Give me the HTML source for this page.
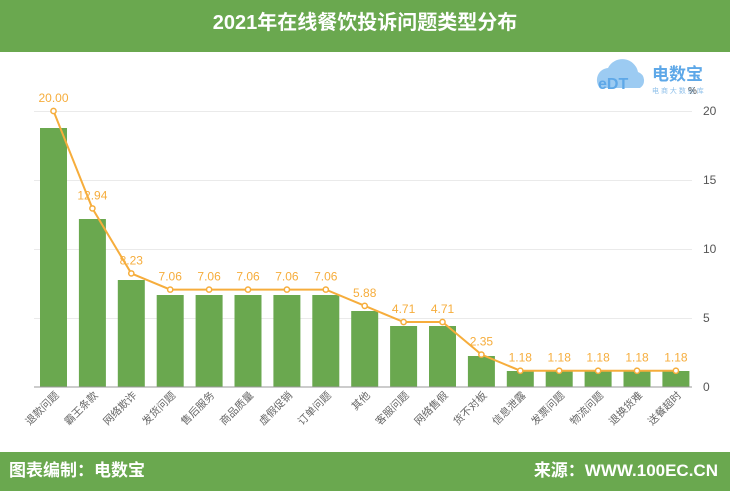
<!DOCTYPE html>
<html><head><meta charset="utf-8"><style>
body{margin:0;width:730px;height:491px;background:#fff;overflow:hidden;font-family:"Liberation Sans","Noto Sans CJK SC",sans-serif;}
.hd{position:absolute;left:0;top:0;width:730px;height:52px;background:#6aa84f;color:#fff;font-weight:bold;font-size:20px;text-align:center;line-height:46px;}
.ft{position:absolute;left:0;top:452px;width:730px;height:39px;background:#6aa84f;color:#fff;font-weight:bold;font-size:17px;line-height:38px;}
</style></head><body>
<div class="hd">2021年在线餐饮投诉问题类型分布</div>
<svg style="position:absolute;left:0;top:0" width="730" height="491">
<g stroke="#eaeaea" stroke-width="1">
<line x1="34" x2="692" y1="111.5" y2="111.5"/><line x1="34" x2="692" y1="180.5" y2="180.5"/><line x1="34" x2="692" y1="249.5" y2="249.5"/><line x1="34" x2="692" y1="318.5" y2="318.5"/>
</g>
<g font-size="12" fill="#555"><text x="703" y="115">20</text><text x="703" y="184">15</text><text x="703" y="253">10</text><text x="703" y="322">5</text><text x="703" y="391">0</text></g>
<g fill="#6aa84f" id="bars"></g>
<line x1="34" x2="692" y1="387" y2="387" stroke="#999"/>
<polyline id="ln" fill="none" stroke="#f6ad3c" stroke-width="2"/>
<g id="pts"></g>
<g id="lbl" font-size="12" fill="#f6ad3c" text-anchor="middle"></g>
<g id="xl" font-size="10.5" fill="#666" text-anchor="end"></g>
<g font-weight="bold">
<path d="M600 88 a12 12 0 0 1 8 -20 a16 16 0 0 1 30 4 a9 9 0 0 1 2 16 z" fill="#9ccbf2"/>
<text x="598" y="89" font-size="16" fill="#5ea8e8">eDT</text>
<text x="652" y="80" font-size="17" fill="#5ea8e8">电数宝</text>
<text x="652" y="93" font-size="7" fill="#8fc0ea" font-weight="normal">电 商 大 数 据 库</text>
<text x="688" y="94" font-size="10" fill="#555" font-weight="normal">%</text>
</g>
</svg>
<div class="ft"><span style="position:absolute;left:9px">图表编制：电数宝</span><span style="position:absolute;right:12px">来源：WWW.100EC.CN</span></div>
<script>
var v=[20,12.94,8.23,7.06,7.06,7.06,7.06,7.06,5.88,4.71,4.71,2.35,1.18,1.18,1.18,1.18,1.18];
var bt=[128,219,280,295,295,295,295,295,311,326,326,356,371,371,371,371,371];
var n=["退款问题","霸王条款","网络欺诈","发货问题","售后服务","商品质量","虚假促销","订单问题","其他","客服问题","网络售假","货不对板","信息泄露","发票问题","物流问题","退换货难","送餐超时"];
var ns="http://www.w3.org/2000/svg",B=document.getElementById('bars'),P=document.getElementById('pts'),L=document.getElementById('lbl'),X=document.getElementById('xl'),pts=[];
function el(t,a,p,tx){var e=document.createElementNS(ns,t);for(var k in a)e.setAttribute(k,a[k]);if(tx)e.textContent=tx;p.appendChild(e);}
for(var i=0;i<17;i++){var c=53.5+i*38.9,y=387-v[i]*13.8;
el('rect',{x:c-13.5,y:bt[i],width:27,height:387-bt[i]},B);
pts.push(c+','+y);
el('circle',{cx:c,cy:y,r:2.6,fill:'#fff',stroke:'#f6ad3c','stroke-width':1.5},P);
el('text',{x:c,y:y-9},L,v[i].toFixed(2));
el('text',{x:c+6,y:396,transform:'rotate(-45 '+(c+6)+' 396)'},X,n[i]);}
document.getElementById('ln').setAttribute('points',pts.join(' '));
</script>
</body></html>
